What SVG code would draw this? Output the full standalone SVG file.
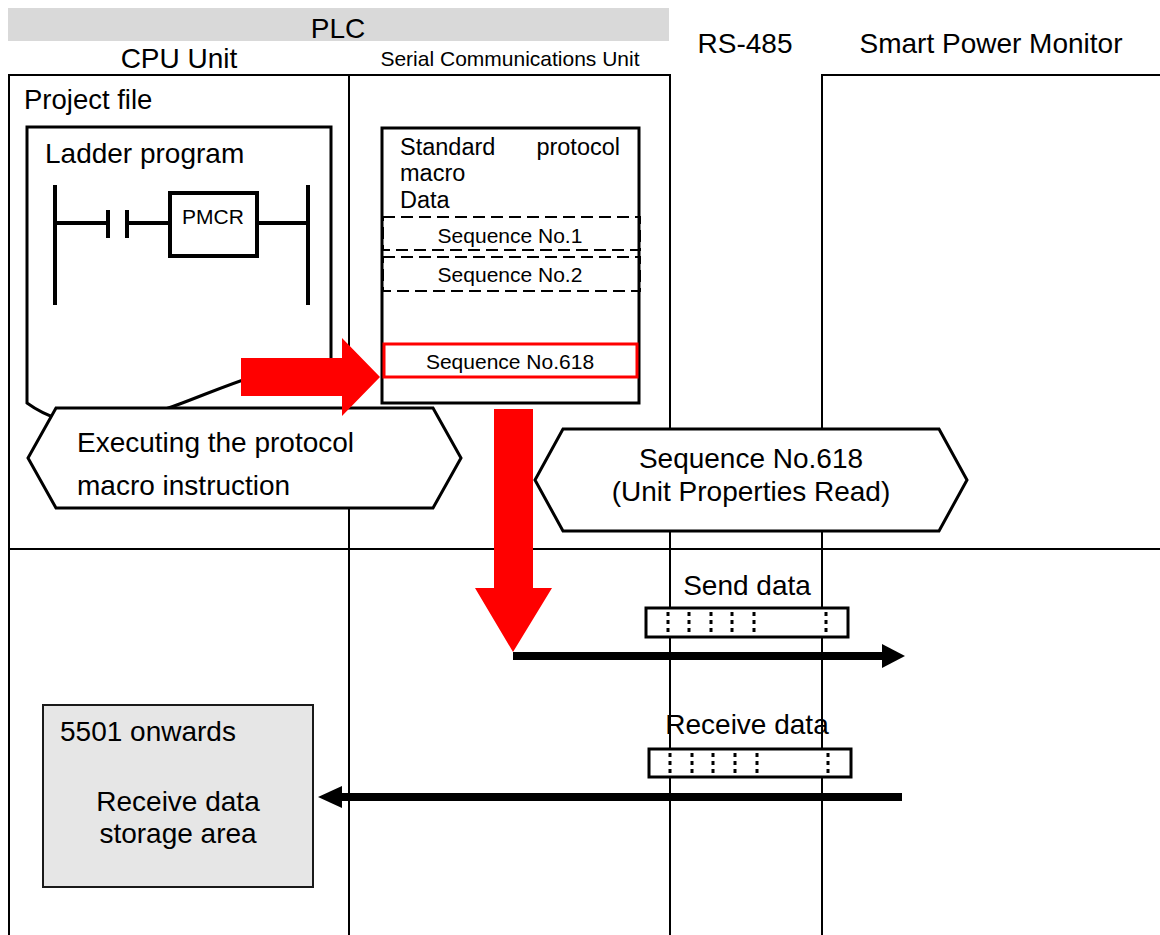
<svg xmlns="http://www.w3.org/2000/svg" width="1160" height="935" viewBox="0 0 1160 935">
<style>
text{font-family:"Liberation Sans",Arial,sans-serif;fill:#000}
.t24{font-size:28px}
.t22{font-size:27.5px}
.t20{font-size:23.5px}
.t17{font-size:21px}
.frame{stroke:#000;stroke-width:2;fill:none}
.box{stroke:#000;stroke-width:3;fill:#fff}
.dash{stroke:#000;stroke-width:2;fill:none;stroke-dasharray:12,6}
.dot{stroke:#000;stroke-width:3;stroke-dasharray:4,4}
.lad{stroke:#000;stroke-width:4;fill:none}
.red{fill:#ff0000}
</style>
<rect width="1160" height="935" fill="#fff"/>
<g id="headers">
<rect x="8" y="8" width="661" height="33" fill="#d9d9d9"/>
<text class="t24" x="338" y="38" text-anchor="middle">PLC</text>
<text class="t24" x="179" y="68" text-anchor="middle">CPU Unit</text>
<text class="t17" x="510" y="66" text-anchor="middle">Serial Communications Unit</text>
<text class="t24" x="745" y="53" text-anchor="middle">RS-485</text>
<text class="t24" x="991" y="53" text-anchor="middle">Smart Power Monitor</text>
</g>
<g id="frame">
<path class="frame" d="M9,935 V75 H670 V935 M349,75 V935 M822,935 V75 H1160 M9,549 H1160"/>
<text class="t22" x="24" y="109">Project file</text>
</g>
<g id="ladder">
<path class="box" d="M27,127 H331 V365 C230,355 120,470 27,403 Z"/>
<text class="t24" x="45" y="163">Ladder program</text>
<path class="lad" d="M55,185 V305 M308,185 V305 M55,223 H107 M108,210 V238 M127,210 V238 M127,223 H170 M257,223 H308"/>
<rect x="170" y="193" width="87" height="63" fill="#fff" stroke="#000" stroke-width="4"/>
<text class="t17" x="213" y="224" text-anchor="middle">PMCR</text>
</g>
<g id="protocol">
<rect class="box" x="382" y="128" width="257" height="275"/>
<text class="t20" x="400" y="155">Standard</text>
<text class="t20" x="620" y="155" text-anchor="end">protocol</text>
<text class="t20" x="400" y="181">macro</text>
<text class="t20" x="400" y="208">Data</text>
<rect class="dash" x="383" y="217" width="257" height="33"/>
<text class="t17" x="510" y="243" text-anchor="middle">Sequence No.1</text>
<rect class="dash" x="383" y="257" width="257" height="34"/>
<text class="t17" x="510" y="282" text-anchor="middle">Sequence No.2</text>
<rect x="384" y="344" width="253" height="33" fill="#fff" stroke="#ff0000" stroke-width="3"/>
<text class="t17" x="510" y="369" text-anchor="middle">Sequence No.618</text>
</g>
<g id="exec">
<path class="box" d="M56,408 H433 L461,458 L433,508 H56 L28,458 Z"/>
<text class="t24" x="77" y="452">Executing the protocol</text>
<text class="t24" x="77" y="495">macro instruction</text>
</g>
<g id="seq618">
<path class="box" d="M563,429 H939 L967,480 L939,531 H563 L535,480 Z"/>
<text class="t24" x="751" y="468" text-anchor="middle">Sequence No.618</text>
<text class="t24" x="751" y="501" text-anchor="middle">(Unit Properties Read)</text>
</g>
<g id="senddata">
<text class="t24" x="747" y="595" text-anchor="middle">Send data</text>
<rect class="box" x="646" y="608" width="202" height="29" fill="none"/>
<path class="dot" d="M668,612 V634 M689,612 V634 M711,612 V634 M732,612 V634 M754,612 V634 M826,612 V634"/>
</g>
<g id="recvdata">
<text class="t24" x="747" y="734" text-anchor="middle">Receive data</text>
<rect class="box" x="649" y="749" width="202" height="28" fill="none"/>
<path class="dot" d="M670,753 V775 M692,753 V775 M713,753 V775 M735,753 V775 M757,753 V775 M828,753 V775"/>
</g>
<g id="storage">
<rect x="43" y="705" width="270" height="182" fill="#e6e6e6" stroke="#1a1a1a" stroke-width="2"/>
<text class="t24" x="60" y="741">5501 onwards</text>
<text class="t24" x="178" y="811" text-anchor="middle">Receive data</text>
<text class="t24" x="178" y="843" text-anchor="middle">storage area</text>
</g>
<g id="connectors">
<path class="red" d="M241,358 H342 V338 L380,377 L342,416 V396 H241 Z"/>
<path class="red" d="M494,409 H533 V588 H552 L513,652 L475,588 H494 Z"/>
<path d="M513,656 H884" stroke="#000" stroke-width="8"/>
<path d="M882,644 L905,656 L882,668 Z" fill="#000"/>
<path d="M340,797 H902" stroke="#000" stroke-width="8"/>
<path d="M342,786 L318,797 L342,808 Z" fill="#000"/>
</g>
</svg>
